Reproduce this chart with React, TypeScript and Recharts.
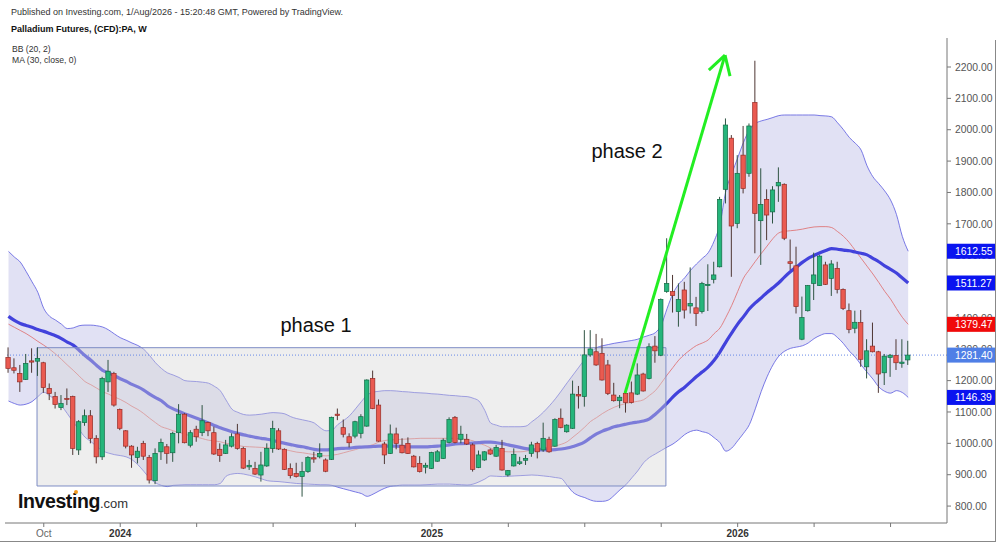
import React from 'react';
import { ComposedChart, Area, Line, Bar, XAxis, YAxis, ReferenceLine, ReferenceArea } from 'recharts';

const FONT = '"Liberation Sans", Arial, Helvetica, sans-serif';

// Weekly OHLC (Aug 2023 - Jul 2026)
const openPrices = [
  1274,1241,1223,1204,1263,1262,1257,1175,1149,1114,
  1143,1149,979,1066,1088,1016,957,1196,1223,1108,
  1040,991,955,1000,955,881,973,989,970,1034,
  1093,994,1045,1034,1066,1034,981,968,991,1030,
  984,925,920,899,928,984,1040,981,920,904,
  894,910,954,957,947,949,1093,1050,1021,1023,
  1032,1055,1207,1122,998,968,1030,994,1000,959,
  936,924,920,943,952,1003,1083,1013,1013,995,
  923,947,979,959,984,899,928,936,946,968,
  1000,979,1013,991,1080,1037,1048,1156,1149,1282,
  1292,1287,1250,1154,1136,1159,1161,1157,1221,1207,
  1310,1281,1484,1484,1420,1489,1438,1432,1420,1503,
  1523,1563,1810,1973,1701,1919,1861,2087,1710,1778,
  1738,1821,1826,1579,1566,1332,1423,1510,1503,1569,
  1526,1558,1491,1423,1367,1385,1244,1310,1292,1225,
  1274,1280,1255,1266,
];
const highPrices = [
  1306,1271,1250,1285,1303,1306,1260,1191,1164,1154,
  1175,1152,1074,1108,1106,1026,1212,1266,1228,1111,
  1042,994,989,1008,963,984,1015,998,1037,1125,
  1096,1042,1056,1122,1069,1053,1000,1011,1032,1062,
  989,947,941,973,1000,1072,1048,984,936,938,
  941,959,973,1000,952,1085,1111,1076,1032,1072,
  1093,1204,1232,1140,1005,1060,1050,1016,1019,963,
  959,938,973,979,1016,1083,1087,1056,1030,1000,
  977,975,984,995,1011,915,984,957,963,1005,
  1005,1066,1021,1080,1111,1061,1200,1183,1361,1361,
  1349,1335,1266,1193,1154,1161,1197,1255,1225,1319,
  1342,1462,1654,1537,1510,1515,1561,1467,1515,1571,
  1579,1786,2036,1983,1919,2012,2020,2220,1877,1810,
  1820,1880,1829,1650,1627,1468,1505,1608,1600,1579,
  1584,1579,1494,1446,1423,1425,1332,1385,1295,1285,
  1285,1332,1332,1327,
];
const lowPrices = [
  1225,1223,1164,1202,1225,1215,1161,1138,1111,1106,
  1122,963,963,1056,1000,936,947,1164,1117,1042,
  984,922,936,947,872,870,947,935,941,1000,
  1000,987,1005,1023,1023,963,941,966,987,980,
  918,915,899,878,925,970,979,915,888,891,
  830,906,938,952,908,947,1074,1019,987,1016,
  1016,1053,1109,1005,934,966,981,968,966,923,
  907,904,918,941,950,1000,1000,1000,995,910,
  921,944,963,957,913,894,926,931,931,957,
  952,973,970,989,1048,1034,1046,1111,1117,1276,
  1247,1200,1154,1133,1112,1098,1127,1154,1165,1204,
  1257,1278,1480,1417,1372,1398,1414,1374,1414,1422,
  1510,1561,1765,1531,1686,1797,1850,1606,1569,1648,
  1701,1770,1648,1553,1414,1329,1420,1457,1502,1505,
  1470,1478,1425,1351,1351,1244,1207,1290,1161,1186,
  1212,1234,1241,1250,
];
const closePrices = [
  1239,1233,1196,1255,1259,1271,1178,1159,1124,1127,
  1140,984,1069,1088,1016,957,1207,1230,1122,1048,
  991,963,975,959,883,968,1003,968,1032,1093,
  1002,1034,1021,1072,1040,966,961,995,1021,984,
  921,930,902,931,984,1047,982,917,897,894,
  910,955,950,968,911,1083,1089,1029,1002,1069,
  1085,1202,1111,1007,963,1030,1000,970,968,925,
  910,930,971,973,1010,1076,1003,1029,998,917,
  963,973,966,987,915,913,965,941,952,995,
  973,1016,973,1076,1051,1058,1157,1151,1282,1301,
  1250,1202,1159,1136,1147,1130,1130,1218,1167,1308,
  1295,1459,1510,1471,1459,1425,1446,1414,1510,1507,
  1537,1778,2015,1693,1861,1813,2012,1733,1762,1728,
  1808,1832,1654,1574,1436,1401,1503,1537,1597,1507,
  1572,1491,1430,1363,1386,1268,1295,1292,1221,1278,
  1281,1257,1259,1281.4,
];

// Bollinger Bands (20, 2) and MA (30)
const bbUpper = [
  1612,1594,1578,1548,1515,1481,1430,1405,1393,1380,
  1366,1368,1375,1377,1377,1375,1371,1362,1349,1337,
  1329,1320,1312,1300,1280,1257,1239,1225,1218,1210,
  1200,1198,1197,1195,1192,1182,1168,1138,1109,1099,
  1092,1090,1091,1093,1096,1098,1097,1094,1085,1079,
  1075,1071,1065,1050,1040,1042,1060,1073,1088,1110,
  1133,1154,1163,1166,1168,1168,1167,1165,1164,1162,
  1161,1160,1158,1157,1155,1153,1152,1150,1149,1144,
  1135,1105,1065,1058,1053,1053,1053,1053,1055,1069,
  1083,1100,1120,1142,1167,1193,1218,1243,1268,1290,
  1305,1311,1315,1319,1322,1325,1328,1332,1339,1345,
  1353,1377,1430,1478,1508,1528,1552,1572,1590,1608,
  1645,1700,1805,1860,1910,1960,2000,2020,2028,2033,
  2039,2045,2047,2047,2047,2047,2047,2047,2045,2044,
  2041,2022,2000,1975,1957,1935,1885,1850,1828,1805,
  1776,1730,1660,1612.55,
];
const bbLower = [
  1135,1127,1122,1125,1133,1149,1163,1152,1138,1120,
  1095,1068,1044,1020,1006,990,976,969,964,961,
  957,948,932,911,889,874,866,862,866,867,
  868,868,868,868,868,868,872,895,902,904,
  902,898,893,887,881,879,878,876,874,872,
  871,870,869,868,868,866,860,855,850,845,
  840,831,838,848,857,863,865,867,867,867,
  867,868,869,870,870,870,869,868,867,870,
  877,886,896,895,894,895,896,897,898,899,
  898,896,894,891,888,866,844,833,827,819,
  815,815,819,834,852,868,890,912,938,955,
  966,977,988,998,1012,1028,1038,1042,1037,1032,
  1018,1002,975,985,1008,1032,1060,1110,1165,1212,
  1250,1278,1294,1303,1307,1311,1320,1334,1344,1350,
  1350,1337,1318,1294,1275,1250,1227,1205,1180,1166,
  1160,1168,1162,1146.39,
];
const bbMiddle = [
  1380,1370,1360,1350,1338,1325,1313,1300,1285,1268,
  1250,1233,1215,1197,1187,1176,1165,1157,1148,1140,
  1130,1118,1108,1095,1080,1066,1053,1047,1040,1035,
  1029,1024,1020,1015,1010,1008,1005,1000,997,993,
  990,989,988,987,986,985,983,980,976,972,
  970,967,964,961,960,962,965,970,975,980,
  986,991,996,1004,1009,1011,1012,1013,1014,1015,
  1016,1016,1016,1016,1016,1016,1016,1014,1012,1008,
  1000,994,985,978,974,973,973,973,975,979,
  983,986,988,992,997,1005,1020,1035,1052,1070,
  1082,1095,1106,1115,1122,1127,1131,1134,1139,1153,
  1168,1192,1218,1242,1266,1284,1299,1312,1320,1330,
  1350,1368,1402,1440,1484,1527,1554,1580,1605,1629,
  1653,1671,1676,1678,1680,1683,1687,1690,1691,1691,
  1688,1675,1660,1640,1615,1590,1565,1540,1513,1485,
  1460,1430,1402,1379.47,
];
const ma30 = [
  1405,1392,1382,1376,1370,1363,1357,1350,1343,1334,
  1323,1313,1297,1280,1265,1248,1233,1225,1216,1206,
  1198,1188,1180,1170,1157,1146,1136,1120,1110,1102,
  1094,1087,1080,1073,1065,1057,1050,1043,1037,1032,
  1027,1023,1019,1016,1013,1009,1004,1000,996,992,
  989,985,981,979,979,981,983,984,985,987,
  988,989,990,991,991,991,991,990,989,989,
  989,989,990,991,993,995,998,999,1000,1001,
  1002,1004,1004,1002,999,995,991,987,983,980,
  979,979,979,980,982,985,990,996,1005,1018,
  1030,1039,1046,1053,1057,1061,1065,1068,1071,1078,
  1093,1110,1128,1148,1165,1179,1196,1213,1228,1244,
  1265,1292,1323,1352,1380,1404,1429,1448,1464,1481,
  1496,1512,1531,1548,1562,1577,1590,1599,1608,1615,
  1621,1619,1616,1614,1610,1606,1601,1590,1579,1566,
  1555,1543,1527,1511.27,
];

// Time axis: week numbers carrying a tick, and their labels
const tickWeeks = [6, 19, 32, 45, 59, 72, 85, 98, 111, 124, 137, 150];
const tickLabels = ['Oct', '2024', '', '', '', '2025', '', '', '', '2026', '', ''];
const priceTicks = [800, 900, 1000, 1100, 1200, 1300, 1400, 1500, 1600, 1700, 1800, 1900, 2000, 2100, 2200];

// Last-value badges on the price scale
const badgeValues = [1612.55, 1511.27, 1379.47, 1281.4, 1146.39];
const badgeColors = ['#0a14f0', '#0a14f0', '#f00a0a', '#4f7fe6', '#0a14f0'];

// Annotations (week, price)
const phase1Weeks = [4.85, 111.8];
const phase1Prices = [864, 1305];
const arrowShaft = [{ x: 104.85, y: 1160 }, { x: 121.85, y: 2238 }];
const arrowBarbLeft = [{ x: 121.85, y: 2238 }, { x: 119.1, y: 2190 }];
const arrowBarbRight = [{ x: 121.85, y: 2238 }, { x: 122.7, y: 2171 }];

const data = openPrices.map((o, i) => ({
  i,
  open: o,
  high: highPrices[i],
  low: lowPrices[i],
  close: closePrices[i],
  upper: bbUpper[i],
  lower: bbLower[i],
  mid: bbMiddle[i],
  ma: ma30[i],
  band: [bbLower[i], bbUpper[i]],
  range: [lowPrices[i], highPrices[i]],
}));

const Candle = (props: any) => {
  let { x, y, width, height, payload } = props;
  if (x == null || y == null || !payload) return null;
  if (height < 0) {
    y = y + height;
    height = -height;
  }
  const { open, close, high, low } = payload;
  const k = height / (high - low || 1);
  const yOf = (v: number) => y + (high - v) * k;
  const cx = x + width / 2;
  const up = close >= open;
  const top = yOf(Math.max(open, close));
  const bot = yOf(Math.min(open, close));
  const bh = Math.max(1, bot - top);
  return (
    <g>
      <line x1={cx} x2={cx} y1={y} y2={y + height} stroke={up ? '#2f5443' : '#4e3633'} strokeWidth={1} />
      <rect
        x={cx - 2.2}
        y={top}
        width={4.4}
        height={bh}
        fill={up ? '#25b57b' : '#ea5a50'}
        stroke={up ? '#136b45' : '#962b26'}
        strokeWidth={0.7}
      />
    </g>
  );
};

const XTick = (props: any) => {
  const { x, y, payload } = props;
  const idx = tickWeeks.indexOf(payload.value);
  const label = idx >= 0 ? tickLabels[idx] : '';
  if (!label) return null;
  const bold = label !== 'Oct';
  return (
    <text
      x={x}
      y={y}
      dy="0.71em"
      textAnchor="middle"
      fontSize={10}
      fontWeight={bold ? 700 : 400}
      fill={bold ? '#333' : '#666'}
      fontFamily={FONT}
    >
      {label}
    </text>
  );
};

const Badge = (props: any) => {
  const { viewBox, text, color } = props;
  if (!viewBox) return null;
  const left = viewBox.x + viewBox.width;
  const y = viewBox.y;
  return (
    <g>
      <rect x={left} y={y - 7.5} width={48} height={15} fill={color} />
      <text x={left + 8} y={y} dy="0.36em" fontSize={10.4} fill="#fff" fontFamily={FONT}>
        {text}
      </text>
    </g>
  );
};

export default function App() {
  return (
    <div
      style={{
        position: 'absolute',
        left: 0,
        top: 0,
        width: 1000,
        height: 545,
        background: '#fff',
        overflow: 'hidden',
        fontFamily: FONT,
      }}
    >
      <ComposedChart width={1000} height={545} data={data} margin={{ top: 38, right: 5, bottom: 4, left: 5 }}>
        <XAxis
          dataKey="i"
          type="number"
          domain={[-0.595, 159.6]}
          allowDataOverflow
          ticks={tickWeeks}
          interval={0}
          tick={<XTick />}
          tickSize={4}
          tickMargin={3}
          height={18}
          axisLine={{ stroke: '#777' }}
          tickLine={{ stroke: '#777' }}
        />
        <YAxis
          orientation="right"
          type="number"
          domain={[746, 2292.5]}
          allowDataOverflow
          ticks={priceTicks}
          interval={0}
          tickFormatter={(v: number) => v.toFixed(2)}
          width={48}
          tickSize={4}
          tickMargin={4}
          axisLine={{ stroke: '#777' }}
          tickLine={{ stroke: '#777' }}
          tick={{ fill: '#555', fontSize: 10.4, fontFamily: FONT }}
        />
        <Area
          dataKey="band"
          type="monotone"
          fill="#e1e1f4"
          fillOpacity={1}
          stroke="none"
          isAnimationActive={false}
          activeDot={false}
          zIndex={100}
        />
        <Line dataKey="upper" type="monotone" stroke="#5a5ae0" strokeWidth={0.8} dot={false} isAnimationActive={false} activeDot={false} zIndex={400} />
        <Line dataKey="lower" type="monotone" stroke="#5a5ae0" strokeWidth={0.8} dot={false} isAnimationActive={false} activeDot={false} zIndex={400} />
        <Line dataKey="mid" type="monotone" stroke="#de6a6a" strokeWidth={0.8} dot={false} isAnimationActive={false} activeDot={false} zIndex={400} />
        <Line dataKey="ma" type="monotone" stroke="#4242dc" strokeWidth={3.2} dot={false} isAnimationActive={false} activeDot={false} zIndex={410} />
        <ReferenceArea
          x1={phase1Weeks[0]}
          x2={phase1Weeks[1]}
          y1={phase1Prices[0]}
          y2={phase1Prices[1]}
          fill="#d4d4d4"
          fillOpacity={0.4}
          stroke="#7d8cc4"
          strokeWidth={1}
          ifOverflow="visible"
          zIndex={450}
        />
        <ReferenceLine y={closePrices[closePrices.length - 1]} stroke="#6688e6" strokeDasharray="1 2" strokeWidth={1} zIndex={460} />
        <Bar dataKey="range" barSize={5} shape={<Candle />} isAnimationActive={false} zIndex={500} />
        <ReferenceLine segment={arrowShaft} stroke="#22ee22" strokeWidth={3} ifOverflow="visible" zIndex={600} />
        <ReferenceLine segment={arrowBarbLeft} stroke="#22ee22" strokeWidth={3} ifOverflow="visible" zIndex={600} />
        <ReferenceLine segment={arrowBarbRight} stroke="#22ee22" strokeWidth={3} ifOverflow="visible" zIndex={600} />
        {badgeValues.map((v, k) => (
          <ReferenceLine
            key={k}
            y={v}
            stroke="none"
            zIndex={2500}
            label={<Badge text={v.toFixed(2)} color={badgeColors[k]} />}
          />
        ))}
      </ComposedChart>

      <div style={{ position: 'absolute', left: 11, top: 7, fontSize: 9, lineHeight: '11px', color: '#333', whiteSpace: 'nowrap' }}>
        Published on Investing.com, 1/Aug/2026 - 15:20:48 GMT, Powered by TradingView.
      </div>
      <div style={{ position: 'absolute', left: 11, top: 23.5, fontSize: 9, lineHeight: '11px', fontWeight: 700, color: '#111', whiteSpace: 'nowrap' }}>
        Palladium Futures, (CFD):PA, W
      </div>
      <div style={{ position: 'absolute', left: 12, top: 44, fontSize: 8.6, lineHeight: '10.5px', color: '#333', whiteSpace: 'nowrap' }}>
        BB (20, 2)
        <br />
        MA (30, close, 0)
      </div>
      <div style={{ position: 'absolute', left: 316, top: 315, transform: 'translateX(-50%)', fontSize: 20, lineHeight: '20px', color: '#111', whiteSpace: 'nowrap' }}>
        phase 1
      </div>
      <div style={{ position: 'absolute', left: 627, top: 141, transform: 'translateX(-50%)', fontSize: 20, lineHeight: '20px', color: '#111', whiteSpace: 'nowrap' }}>
        phase 2
      </div>
      <div style={{ position: 'absolute', left: 18, top: 490, whiteSpace: 'nowrap', color: '#111' }}>
        <span style={{ fontSize: 19.5, fontWeight: 700, letterSpacing: -0.4, lineHeight: '22px' }}>Investing</span>
        <span style={{ fontSize: 13, lineHeight: '22px', color: '#333' }}>.com</span>
      </div>
      <div style={{ position: 'absolute', left: 74, top: 490, width: 4, height: 4, borderRadius: 2, background: '#f29a1d' }} />
      <div style={{ position: 'absolute', left: 995, top: 40, width: 1, height: 502, background: '#888' }} />
      <div style={{ position: 'absolute', left: 0, top: 541, width: 996, height: 1, background: '#888' }} />
    </div>
  );
}
